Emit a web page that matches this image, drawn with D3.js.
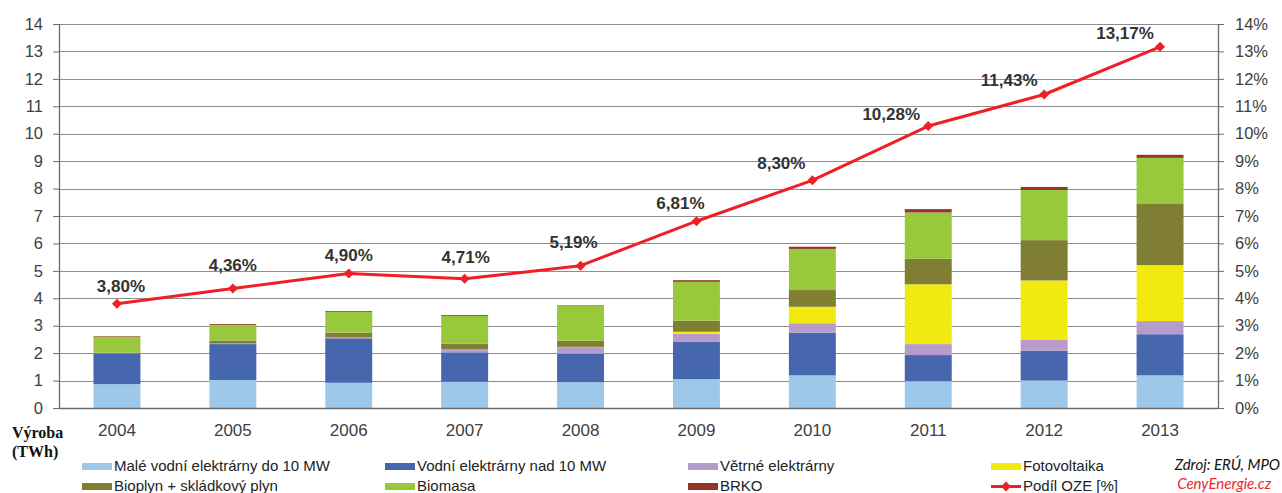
<!DOCTYPE html>
<html>
<head>
<meta charset="utf-8">
<script src="https://cdn.jsdelivr.net/npm/d3@7"></script>
<style>
  html, body { margin: 0; padding: 0; background: #fff; }
  svg { display: block; }
</style>
</head>
<body>
<svg id="chart" width="1282" height="493"></svg>
<script>
// Výroba elektřiny z OZE v ČR (TWh) a podíl OZE na hrubé spotřebě (%)
const years = ["2004", "2005", "2006", "2007", "2008", "2009", "2010", "2011", "2012", "2013"];

const maleVodni   = [0.87, 1.02, 0.92, 0.96, 0.94, 1.05, 1.19, 0.98, 1.00, 1.19];
const vodniNad10  = [1.12, 1.31, 1.62, 1.07, 1.04, 1.36, 1.56, 0.95, 1.09, 1.50];
const vetrne      = [0.01, 0.02, 0.05, 0.11, 0.24, 0.30, 0.34, 0.40, 0.40, 0.48];
const fotovoltaika= [0.00, 0.00, 0.00, 0.00, 0.01, 0.07, 0.60, 2.18, 2.16, 2.04];
const bioplyn     = [0.02, 0.11, 0.16, 0.20, 0.22, 0.40, 0.61, 0.93, 1.47, 2.25];
const biomasa     = [0.58, 0.57, 0.75, 1.02, 1.27, 1.42, 1.50, 1.69, 1.83, 1.66];
const brko        = [0.02, 0.03, 0.03, 0.03, 0.02, 0.06, 0.08, 0.12, 0.11, 0.11];

const podilOZE    = [3.80, 4.36, 4.90, 4.71, 5.19, 6.81, 8.30, 10.28, 11.43, 13.17];
const podilLabels = ["3,80%", "4,36%", "4,90%", "4,71%", "5,19%", "6,81%", "8,30%", "10,28%", "11,43%", "13,17%"];

const leftTicks  = [0, 1, 2, 3, 4, 5, 6, 7, 8, 9, 10, 11, 12, 13, 14];
const rightTicks = [0, 1, 2, 3, 4, 5, 6, 7, 8, 9, 10, 11, 12, 13, 14];

const seriesNames = [
  "Malé vodní elektrárny do 10 MW",
  "Vodní elektrárny nad 10 MW",
  "Větrné elektrárny",
  "Fotovoltaika",
  "Bioplyn + skládkový plyn",
  "Biomasa",
  "BRKO"
];
const lineName = "Podíl OZE [%]";

// ---- build stacked table ----
const seriesArrays = [maleVodni, vodniNad10, vetrne, fotovoltaika, bioplyn, biomasa, brko];
const table = years.map((y, i) => {
  const row = { year: y };
  seriesNames.forEach((n, k) => { row[n] = seriesArrays[k][i]; });
  return row;
});

const colors = ["#9ec8ea", "#4666ae", "#b79ccb", "#f2ea0f", "#7f7e32", "#98c83c", "#963526"];
const lineColor = "#ee1f25";
const textColor = "#333333";
const gridColor = "#8e8e8e";
const axisColor = "#6b6b6b";

const svg = d3.select("#chart");
const margin = { left: 59, right: 64, top: 24, bottom: 85 };
const W = 1282, H = 493;
const x0 = margin.left, x1 = W - margin.right;
const y0 = H - margin.bottom, y1 = margin.top;

const x = d3.scaleBand().domain(years).range([x0, x1]).paddingInner(0.595).paddingOuter(0.2975);
const y = d3.scaleLinear().domain([0, 14]).range([y0, y1]);
const yPct = d3.scaleLinear().domain([0, 14]).range([y0, y1]);

// ---- gridlines ----
svg.append("g")
  .selectAll("line")
  .data(leftTicks.filter(t => t > 0))
  .join("line")
  .attr("x1", x0).attr("x2", x1)
  .attr("y1", d => Math.round(y(d)) + 0.5).attr("y2", d => Math.round(y(d)) + 0.5)
  .attr("stroke", gridColor).attr("stroke-width", 1);

// ---- bars ----
const stack = d3.stack().keys(seriesNames);
const stacked = stack(table);
svg.append("g")
  .selectAll("g")
  .data(stacked)
  .join("g")
  .attr("fill", (d, i) => colors[i])
  .selectAll("rect")
  .data(d => d)
  .join("rect")
  .attr("x", d => x(d.data.year))
  .attr("width", x.bandwidth())
  .attr("y", d => y(d[1]))
  .attr("height", d => Math.max(0, y(d[0]) - y(d[1])));

// ---- axes ----
const fmtNum = d => String(d);
const leftAxis = d3.axisLeft(y).tickValues(leftTicks).tickFormat(fmtNum).tickSize(6).tickPadding(10).tickSizeOuter(0);
const rightAxis = d3.axisRight(yPct).tickValues(rightTicks).tickFormat(d => d + "%").tickSize(6).tickPadding(11).tickSizeOuter(0);

function styleAxis(g) {
  g.select(".domain").attr("stroke", axisColor).attr("stroke-width", 1.3);
  g.selectAll(".tick line").attr("stroke", axisColor).attr("stroke-width", 1);
  g.selectAll(".tick text")
    .attr("fill", "#404040")
    .style("font-family", "'Liberation Sans', Arial, sans-serif")
    .style("font-size", "16.5px");
}
svg.append("g").attr("transform", `translate(${x0},0)`).call(leftAxis).call(styleAxis);
svg.append("g").attr("transform", `translate(${x1},0)`).call(rightAxis).call(styleAxis);

// bottom baseline
svg.append("line")
  .attr("x1", x0).attr("x2", x1)
  .attr("y1", y0 + 0.5).attr("y2", y0 + 0.5)
  .attr("stroke", axisColor).attr("stroke-width", 1.3);

// year labels
svg.append("g")
  .selectAll("text")
  .data(years)
  .join("text")
  .attr("x", d => x(d) + x.bandwidth() / 2)
  .attr("y", 436)
  .attr("text-anchor", "middle")
  .attr("fill", "#404040")
  .style("font-family", "'Liberation Sans', Arial, sans-serif")
  .style("font-size", "17px")
  .text(d => d);

// axis title
const title = svg.append("text")
  .attr("x", 12).attr("y", 438)
  .attr("fill", "#111")
  .style("font-family", "'Liberation Serif', 'Times New Roman', serif")
  .style("font-weight", "bold")
  .style("font-size", "16px");
title.append("tspan").attr("x", 12).attr("y", 438).text("Výroba");
title.append("tspan").attr("x", 12).attr("y", 457).text("(TWh)");

// ---- share line ----
const cx = i => x(years[i]) + x.bandwidth() / 2;
const line = d3.line().x((d, i) => cx(i)).y(d => yPct(d));
svg.append("path")
  .datum(podilOZE)
  .attr("d", line)
  .attr("fill", "none")
  .attr("stroke", lineColor)
  .attr("stroke-width", 3)
  .attr("stroke-linejoin", "round");

const diamond = d3.symbol().type(d3.symbolSquare).size(50);
svg.append("g")
  .selectAll("path")
  .data(podilOZE)
  .join("path")
  .attr("d", diamond)
  .attr("transform", (d, i) => `translate(${cx(i)},${yPct(d)}) rotate(45)`)
  .attr("fill", lineColor);

// value labels, nudged off the line where it climbs steeply
const labelShift = [[4, -18], [0, -23], [0, -19], [1, -22], [-7, -24], [-16, -18], [-31, -17], [-37, -12], [-35, -14], [-35, -14]];
svg.append("g")
  .selectAll("text")
  .data(podilOZE)
  .join("text")
  .attr("x", (d, i) => cx(i) + labelShift[i][0])
  .attr("y", (d, i) => yPct(d) + labelShift[i][1] + 6)
  .attr("text-anchor", "middle")
  .attr("fill", textColor)
  .style("font-family", "'Liberation Sans', Arial, sans-serif")
  .style("font-weight", "bold")
  .style("font-size", "17px")
  .text((d, i) => podilLabels[i]);

// ---- legend ----
const legendItems = [
  { name: seriesNames[0], color: colors[0], col: 0, row: 0 },
  { name: seriesNames[1], color: colors[1], col: 1, row: 0 },
  { name: seriesNames[2], color: colors[2], col: 2, row: 0 },
  { name: seriesNames[3], color: colors[3], col: 3, row: 0 },
  { name: seriesNames[4], color: colors[4], col: 0, row: 1 },
  { name: seriesNames[5], color: colors[5], col: 1, row: 1 },
  { name: seriesNames[6], color: colors[6], col: 2, row: 1 },
  { name: lineName, color: lineColor, col: 3, row: 1, isLine: true }
];
const legend = svg.append("g");
const lg = legend.selectAll("g")
  .data(legendItems)
  .join("g")
  .attr("transform", d => `translate(${82 + d.col * 303},${471 + d.row * 20})`);
lg.filter(d => !d.isLine).append("rect")
  .attr("x", 0).attr("y", -8).attr("width", 30).attr("height", 7)
  .attr("fill", d => d.color);
const ll = lg.filter(d => d.isLine);
ll.append("line")
  .attr("x1", 0).attr("x2", 30).attr("y1", -4.5).attr("y2", -4.5)
  .attr("stroke", lineColor).attr("stroke-width", 3);
ll.append("path")
  .attr("d", diamond)
  .attr("transform", "translate(15,-4.5) rotate(45)")
  .attr("fill", lineColor);
lg.append("text")
  .attr("x", 32).attr("y", 0)
  .attr("fill", "#222")
  .style("font-family", "'Liberation Sans', Arial, sans-serif")
  .style("font-size", "15px")
  .text(d => d.name);

// source note
svg.append("text")
  .attr("x", 1280).attr("y", 470)
  .attr("text-anchor", "end")
  .attr("fill", "#111")
  .style("font-family", "Lato, 'Open Sans', sans-serif")
  .style("font-style", "italic")
  .style("font-size", "15px")
  .text("Zdroj: ERÚ, MPO");
svg.append("text")
  .attr("x", 1271).attr("y", 489)
  .attr("text-anchor", "end")
  .attr("fill", "#e8262a")
  .style("font-family", "Lato, 'Open Sans', sans-serif")
  .style("font-style", "italic")
  .style("font-size", "15px")
  .text("CenyEnergie.cz");
</script>
</body>
</html>
